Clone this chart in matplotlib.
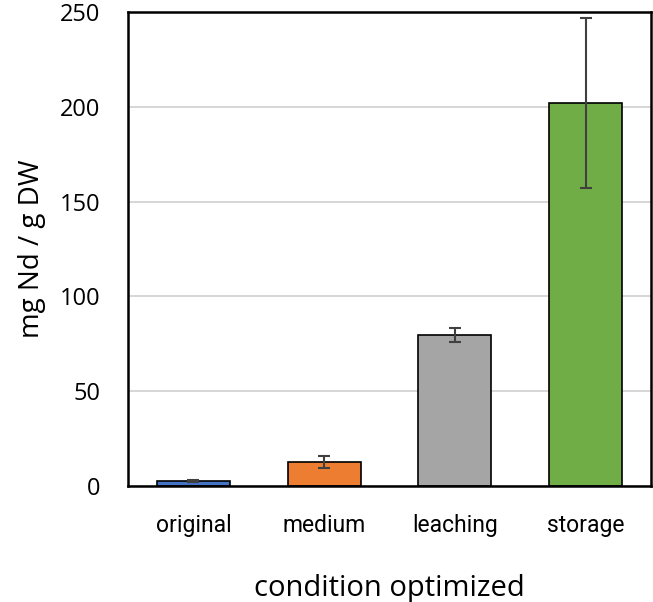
import matplotlib.pyplot as plt

conditions = ["original", "medium", "leaching", "storage"]
nd_uptake = [2.6, 12.8, 79.6, 202]
nd_err = [0.6, 3.2, 3.7, 45]
bar_colors = ["#4472c4", "#ed7d31", "#a5a5a5", "#70ad47"]
y_ticks = [0, 50, 100, 150, 200, 250]

fig = plt.figure(figsize=(6.53, 6.02), dpi=100)
ax = fig.add_axes([128 / 653, 116 / 602, 523 / 653, 474 / 602])

x = range(len(conditions))
ax.bar(x, nd_uptake, width=0.56, color=bar_colors, edgecolor="black",
       linewidth=1.2, zorder=2)
ax.errorbar(x, nd_uptake, yerr=nd_err, fmt="none", ecolor="#404040",
            elinewidth=1.5, capsize=4, capthick=1.5, zorder=3)

ax.set_xlim(-0.5, 3.5)
ax.set_ylim(0, 250)
ax.set_yticks(y_ticks)
ax.yaxis.grid(True, color="#d0d0d0", linewidth=1.2, zorder=0)
ax.set_axisbelow(True)
for s in ax.spines.values():
    s.set_linewidth(1.8)

ax.set_xticks(list(x))
ax.set_xticklabels(conditions, fontsize=16.5, family="Roboto")
ax.tick_params(axis="x", length=0, pad=20)
ax.tick_params(axis="y", length=0, pad=20, labelsize=17)
for lbl in ax.get_yticklabels():
    lbl.set_family("Open Sans")

ax.set_ylabel("mg Nd / g DW", fontsize=20, family="Open Sans", labelpad=10)
ax.set_xlabel("condition optimized", fontsize=21, family="Open Sans",
              labelpad=27)

fig.savefig("out.png", dpi=100)
